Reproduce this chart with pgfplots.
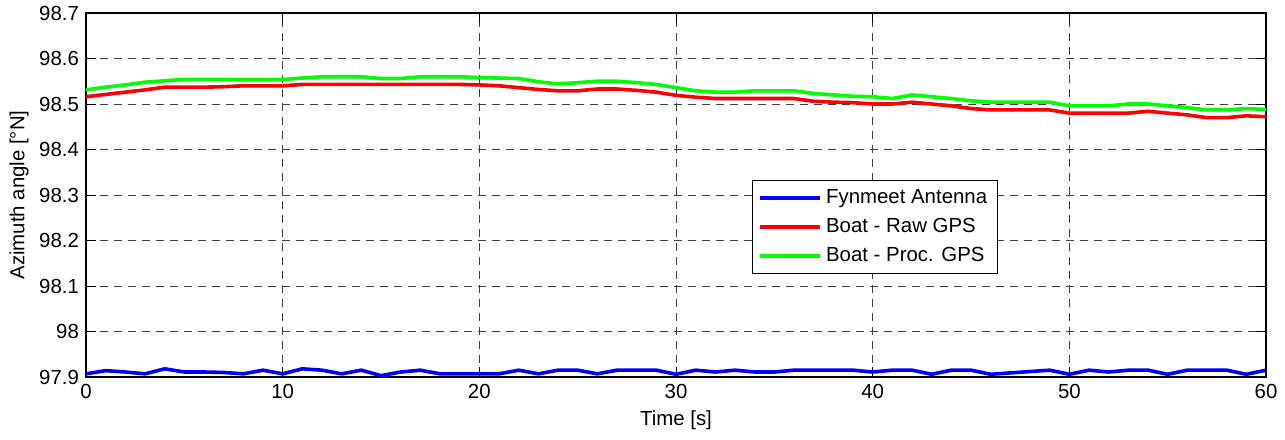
\documentclass[border=0pt]{standalone}
\usepackage{pgfplots}
\pgfplotsset{compat=1.18}
\usepackage{fontspec}
\setmainfont{Liberation Sans}
\begin{document}
\begin{tikzpicture}
\begin{axis}[
  name=ax,
  scale only axis,
  width=590pt, height=182pt,
  xmin=0, xmax=60, ymin=97.9, ymax=98.7,
  xtick={0,10,20,30,40,50,60},
  ytick={97.9,98,98.1,98.2,98.3,98.4,98.5,98.6,98.7},
  yticklabels={97.9,98,98.1,98.2,98.3,98.4,98.5,98.6,98.7},
  /pgf/number format/assume math mode=true,
  tick align=inside, tick pos=both,
  major tick length=5pt,
  tick style={black, line width=0.5pt},
  axis line style={black, line width=1pt},
  grid=major,
  grid style={black!75, line width=0.45pt, dash pattern=on 4pt off 3pt},
  xlabel={Time [s]},
  ylabel={Azimuth angle [°N]},
  xlabel style={yshift=1pt},
  ylabel style={yshift=-1.5pt},
  font=\fontsize{10.2pt}{11.5pt}\selectfont,
  ticklabel style={font=\fontsize{10.2pt}{11.5pt}\selectfont},
  xticklabel style={yshift=0pt},
  legend style={at={(rel axis cs:0.564,0.542)}, anchor=north west, draw=black, line width=0.6pt,
    font=\fontsize{10.2pt}{11.5pt}\selectfont, inner xsep=3pt, inner ysep=2.5pt, row sep=2pt},
  legend cell align=left,
  legend image code/.code={\draw[#1, line width=2pt] (0pt,0pt) -- (30pt,0pt);},
]
\addplot[blue, line width=1.8pt] coordinates {
(0,97.907)(1,97.914)(2,97.911)(3,97.907)(4,97.918)(5,97.911)(6,97.911)(7,97.910)(8,97.907)(9,97.915)
(10,97.907)(11,97.918)(12,97.915)(13,97.907)(14,97.915)(15,97.903)(16,97.911)(17,97.915)(18,97.907)(19,97.907)
(20,97.907)(21,97.907)(22,97.915)(23,97.907)(24,97.915)(25,97.915)(26,97.907)(27,97.915)(28,97.915)(29,97.915)
(30,97.906)(31,97.915)(32,97.911)(33,97.915)(34,97.911)(35,97.911)(36,97.915)(37,97.915)(38,97.915)(39,97.915)
(40,97.911)(41,97.915)(42,97.915)(43,97.906)(44,97.915)(45,97.915)(46,97.906)(47,97.909)(48,97.912)(49,97.915)
(50,97.906)(51,97.915)(52,97.911)(53,97.915)(54,97.915)(55,97.906)(56,97.915)(57,97.915)(58,97.915)(59,97.906)
(60,97.915)};
\addlegendentry{Fynmeet Antenna}
\addplot[red, line width=1.8pt] coordinates {
(0,98.516)(1,98.521)(2,98.526)(3,98.531)(4,98.537)(5,98.537)(6,98.537)(7,98.538)(8,98.540)(9,98.540)
(10,98.540)(11,98.543)(12,98.543)(13,98.543)(14,98.543)(15,98.543)(16,98.543)(17,98.543)(18,98.543)(19,98.543)
(20,98.542)(21,98.540)(22,98.536)(23,98.532)(24,98.529)(25,98.529)(26,98.533)(27,98.533)(28,98.530)(29,98.526)
(30,98.519)(31,98.515)(32,98.512)(33,98.512)(34,98.512)(35,98.512)(36,98.512)(37,98.506)(38,98.504)(39,98.503)
(40,98.500)(41,98.500)(42,98.504)(43,98.500)(44,98.496)(45,98.490)(46,98.487)(47,98.487)(48,98.487)(49,98.487)
(50,98.480)(51,98.480)(52,98.480)(53,98.480)(54,98.484)(55,98.480)(56,98.476)(57,98.470)(58,98.470)(59,98.474)
(60,98.472)};
\addlegendentry{Boat - Raw GPS}
\addplot[green, line width=1.8pt] coordinates {
(0,98.531)(1,98.537)(2,98.542)(3,98.548)(4,98.551)(5,98.554)(6,98.554)(7,98.554)(8,98.553)(9,98.553)
(10,98.554)(11,98.557)(12,98.560)(13,98.560)(14,98.560)(15,98.556)(16,98.556)(17,98.560)(18,98.560)(19,98.560)
(20,98.558)(21,98.557)(22,98.556)(23,98.549)(24,98.544)(25,98.547)(26,98.550)(27,98.550)(28,98.547)(29,98.543)
(30,98.536)(31,98.529)(32,98.526)(33,98.526)(34,98.529)(35,98.529)(36,98.529)(37,98.523)(38,98.520)(39,98.517)
(40,98.516)(41,98.512)(42,98.520)(43,98.516)(44,98.512)(45,98.507)(46,98.504)(47,98.504)(48,98.504)(49,98.504)
(50,98.496)(51,98.496)(52,98.496)(53,98.500)(54,98.500)(55,98.496)(56,98.492)(57,98.487)(58,98.487)(59,98.490)
(60,98.488)};
\addlegendentry{Boat - Proc. GPS}
\end{axis}
\pgfresetboundingbox
\path[use as bounding box] ([shift={(-43pt,-31pt)}]ax.south west) rectangle ([shift={(9.5pt,6.5pt)}]ax.north east);
\end{tikzpicture}
\end{document}
